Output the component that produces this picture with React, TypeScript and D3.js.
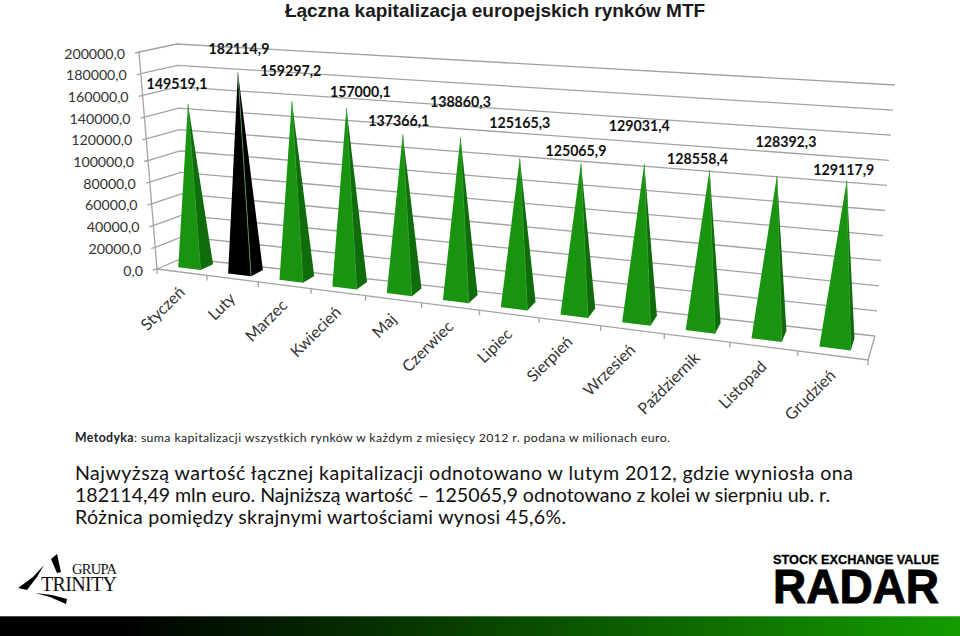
import * as d3 from "d3";
import React from "react";

const months = ["Styczeń", "Luty", "Marzec", "Kwiecień", "Maj", "Czerwiec", "Lipiec", "Sierpień", "Wrzesień", "Październik", "Listopad", "Grudzień"];
const values = [149519.1, 182114.9, 159297.2, 157000.1, 137366.1, 138860.3, 125165.3, 125065.9, 129031.4, 128558.4, 128392.3, 129117.9];
const highlighted = "Luty";
// the labels were placed by hand in the original, offsets from the apex
const labelDx = [-11, 1, -1, 14, -4, 0, 0, -5, -5, -12, 9, -3];
const labelDy = [-15, -18, -25, -11, -8, -30, -30, -7, -33, -6, -29, -6];

const notes = [
  "Najwyższą wartość łącznej kapitalizacji odnotowano w lutym 2012, gdzie wyniosła ona",
  "182114,49 mln euro. Najniższą wartość – 125065,9 odnotowano z kolei w sierpniu ub. r.",
  "Różnica pomiędzy skrajnymi wartościami wynosi 45,6%.",
];
const noteWidths = [778, 755, 491];

type Pt = [number, number];

// corners of the 3D box on the screen
const floorFL: Pt = [157, 269];
const floorFR: Pt = [868, 360];
const floorBL: Pt = [183, 258];
const floorBR: Pt = [875, 336];
const topFL: Pt = [139, 52];
const topFR: Pt = [880, 105];
const topBL: Pt = [177, 44];
const topBR: Pt = [895, 85];
const warp = 0.17;

const mix = (a: Pt, b: Pt, k: number): Pt => [a[0] + (b[0] - a[0]) * k, a[1] + (b[1] - a[1]) * k];

// t along the months, v into the depth, h up the wall
const project = (t: number, v: number, h: number): Pt => {
  const floor = mix(mix(floorFL, floorFR, t), mix(floorBL, floorBR, t), v);
  const top = mix(mix(topFL, topFR, t), mix(topBL, topBR, t), v);
  return mix(floor, top, h);
};
// perspective makes the near months wider
const along = (u: number) => (u * (1 - warp)) / (1 - warp * u);

const yScale = d3.scaleLinear().domain([0, 200000]).range([0, 1]);
const xScale = d3.scaleBand<string>().domain(months).range([0, 1]).paddingInner(0.55).paddingOuter(0.275);
const fmt = d3.formatLocale({ decimal: ",", thousands: "", grouping: [3], currency: ["", ""] }).format(".1f");
const line = d3.line<Pt>();
const depth0 = 0.3;
const depth1 = 0.8;

const gridColor = "#a3a3a3";
const axisFont = "Lato, 'Open Sans', sans-serif";

export default function App() {
  const ticks = yScale.ticks(10);
  const edges = d3.range(months.length + 1).map((i) => along(i / months.length));

  return (
    <svg width={960} height={636} style={{ position: "absolute", left: 0, top: 0, background: "#fff" }}>
      <defs>
        <linearGradient id="band" x1="0" x2="1" y1="0" y2="0">
          <stop offset="0.12" stopColor="#000" />
          <stop offset="1" stopColor="#149c00" />
        </linearGradient>
      </defs>

      <text x={495} y={17} textAnchor="middle" fontFamily="'Liberation Sans', Arial" fontWeight="bold" fontSize={19} fill="#1a1a1a">
        Łączna kapitalizacja europejskich rynków MTF
      </text>

      {/* walls */}
      <g fill="none" stroke={gridColor} strokeWidth={1.3}>
        {ticks.map((d) => {
          const h = yScale(d);
          const a = project(0, 0, h);
          return (
            <path key={d} d={line([[a[0] - 4, a[1] + 1], a, project(0, 1, h), project(1, 1, h)])!} />
          );
        })}
        <path d={line([project(0, 0, 0), project(0, 0, 1)])!} />
        <path d={line([project(0, 0, 0), project(1, 0, 0), project(1, 1, 0)])!} />
        {edges.map((t) => {
          const p = project(t, 0, 0);
          return <path key={t} d={line([p, [p[0], p[1] + 5]])!} />;
        })}
      </g>

      {/* value axis */}
      {ticks.map((d) => {
        const p = project(0, 0, yScale(d));
        return (
          <text key={d} x={p[0] - 14} y={p[1] + 6.5} textAnchor="end" fontFamily={axisFont} fontSize={14.2} fill="#333">
            {fmt(d)}
          </text>
        );
      })}

      {/* pyramids */}
      {months.map((m, i) => {
        const u0 = xScale(m)!;
        const u1 = u0 + xScale.bandwidth();
        const t0 = along(u0);
        const t1 = along(u1);
        const apex = project((t0 + t1) / 2, (depth0 + depth1) / 2, yScale(values[i]));
        const fl = project(t0, depth0, 0);
        const fr = project(t1, depth0, 0);
        const br = project(t1, depth1, 0);
        const black = m === highlighted;
        return (
          <g key={m}>
            <path d={line([fl, fr, apex])! + "Z"} fill={black ? "#000" : "#1a9410"} />
            <path d={line([fr, br, apex])! + "Z"} fill={black ? "#000" : "#0e6c0a"} />
            <path d={line([fr, apex])!} stroke={black ? "#5da85a" : "#2f9a28"} strokeWidth={0.8} fill="none" />
            <text
              x={apex[0] + labelDx[i]}
              y={apex[1] + labelDy[i]}
              textAnchor="middle"
              fontFamily="Lato, sans-serif"
              fontWeight="bold"
              fontSize={14.2}
              fill="#111"
            >
              {fmt(values[i])}
            </text>
          </g>
        );
      })}

      {/* month labels */}
      {months.map((m, i) => {
        const p = project(along((i + 0.5) / months.length), 0, 0);
        return (
          <text
            key={m}
            transform={`translate(${p[0] + 4},${p[1] + 21}) rotate(-45)`}
            textAnchor="end"
            fontFamily={axisFont}
            fontSize={16}
            fill="#333"
          >
            {m}
          </text>
        );
      })}

      <text x={75} y={442} fontFamily={axisFont} fontSize={12.3} fill="#222" textLength={595} lengthAdjust="spacing">
        <tspan fontWeight="bold">Metodyka</tspan>: suma kapitalizacji wszystkich rynków w każdym z miesięcy 2012 r. podana w milionach euro.
      </text>
      {notes.map((n, i) => (
        <text key={n} x={75} y={480 + i * 22} fontFamily={axisFont} fontSize={19.6} fill="#111" textLength={noteWidths[i]} lengthAdjust="spacing">
          {n}
        </text>
      ))}

      {/* logos */}
      <g fill="#000">
        <polygon points="51,559 57,554 61,572 57,573" />
        <polygon points="18,588 33,577 44,565 37,577 27,590" />
        <polygon points="35,593 52,595 67,599 66,604 50,597" />
      </g>
      <text x={72} y={574} fontFamily="'Liberation Serif', serif" fontSize={14.5} textLength={45} fill="#111">GRUPA</text>
      <text x={41} y={591} fontFamily="'Liberation Serif', serif" fontSize={20} textLength={76} fill="#111">TRINITY</text>
      <text x={773} y={564} fontFamily="'Liberation Sans', Arial" fontWeight="bold" fontSize={13} textLength={166} lengthAdjust="spacingAndGlyphs" fill="#000" stroke="#000" strokeWidth={0.3}>
        STOCK EXCHANGE VALUE
      </text>
      <text x={773} y={603} fontFamily="'Liberation Sans', Arial" fontWeight="bold" fontSize={48} textLength={166} lengthAdjust="spacingAndGlyphs" fill="#000" stroke="#000" strokeWidth={1}>
        RADAR
      </text>

      <rect x={0} y={616} width={960} height={20} fill="url(#band)" />
      <rect x={0} y={616} width={960} height={1} fill="#fff" opacity={0.3} />
    </svg>
  );
}
